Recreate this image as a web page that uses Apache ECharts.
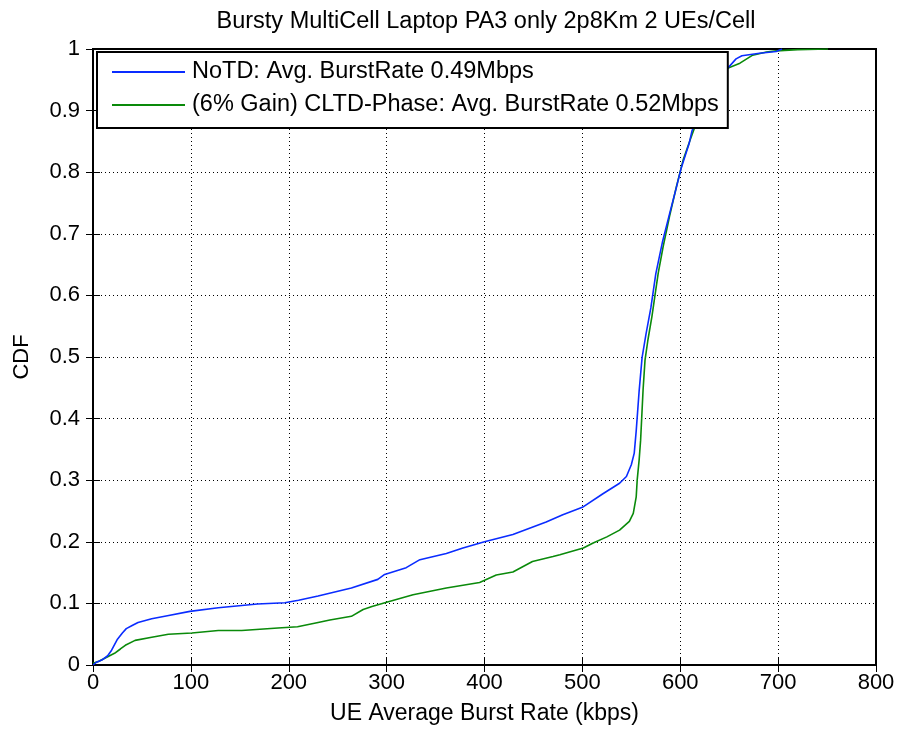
<!DOCTYPE html>
<html>
<head>
<meta charset="utf-8">
<script src="https://cdn.jsdelivr.net/npm/echarts@6/dist/echarts.min.js"></script>
<style>
html,body{margin:0;padding:0;background:#fff;}
#chart{width:899px;height:731px;}
</style>
</head>
<body>
<div id="chart"></div>
<script>
const titleText = 'Bursty MultiCell Laptop PA3 only 2p8Km 2 UEs/Cell';
const xAxisName = 'UE Average Burst Rate (kbps)';
const yAxisName = 'CDF';
const xTicks = [0, 100, 200, 300, 400, 500, 600, 700, 800];
const yTicks = [0, 0.1, 0.2, 0.3, 0.4, 0.5, 0.6, 0.7, 0.8, 0.9, 1];
const seriesNames = ['NoTD: Avg. BurstRate 0.49Mbps', '(6% Gain) CLTD-Phase: Avg. BurstRate 0.52Mbps'];

// NoTD (blue): [kbps, CDF]
const noTD = [
  [0,0],[3,0.004],[9,0.008],[15,0.015],[19,0.024],[25,0.042],[30,0.052],[34,0.059],[40,0.064],
  [46,0.069],[60,0.075],[76,0.080],[99,0.087],[128,0.093],[168,0.099],[196,0.101],[210,0.105],
  [230,0.112],[264,0.125],[291,0.139],[298,0.147],[320,0.158],[334,0.171],[361,0.181],[378,0.190],
  [400,0.200],[429,0.212],[463,0.232],[480,0.244],[500,0.256],[521,0.278],[538,0.295],[545,0.306],
  [550,0.325],[553,0.344],[555,0.38],[558,0.445],[561,0.499],[565,0.537],[570,0.58],[575,0.635],
  [582,0.688],[589,0.732],[596,0.775],[601,0.807],[609,0.846],[612,0.867],[620,0.90],[630,0.93],
  [640,0.955],[648,0.968],[657,0.984],[663,0.989],[681,0.993],[698,0.996],[704,1]
];

// CLTD-Phase (green): [kbps, CDF]
const cltd = [
  [0,0.003],[6,0.006],[12,0.011],[22,0.019],[28,0.026],[33,0.032],[43,0.040],[60,0.045],[77,0.050],
  [101,0.052],[128,0.056],[152,0.056],[189,0.060],[209,0.062],[230,0.069],[242,0.073],[264,0.079],
  [276,0.090],[285,0.095],[300,0.102],[327,0.114],[361,0.125],[395,0.134],[412,0.146],[429,0.151],
  [449,0.168],[470,0.176],[477,0.179],[501,0.19],[511,0.198],[525,0.208],[538,0.219],[548,0.233],
  [552,0.246],[555,0.273],[556,0.30],[558,0.333],[559.5,0.365],[562,0.446],[564,0.495],[567,0.528],
  [571,0.565],[574,0.598],[577.5,0.636],[582.5,0.679],[589,0.728],[596,0.776],[603,0.82],[610,0.852],
  [615,0.874],[625,0.91],[635,0.94],[643,0.96],[649,0.969],[661,0.977],[674,0.99],[688,0.995],
  [698,0.997],[720,0.999],[751,1.0]
];

const FONT = '"Liberation Sans", Arial, Helvetica, sans-serif';
const chart = echarts.init(document.getElementById('chart'));

const yFmt = v => (Math.abs(v) < 1e-9 ? '0' : (Math.abs(v - 1) < 1e-9 ? '1' : v.toFixed(1)));
const dotted = { show: true, lineStyle: { color: '#000', type: [1, 3], width: 1 } };

chart.setOption({
  backgroundColor: '#fff',
  animation: false,
  title: {
    text: titleText, left: 481, top: 5, textAlign: 'center',
    textStyle: { fontFamily: FONT, fontSize: 23.5, fontWeight: 'normal', color: '#000' }
  },
  grid: {
    left: 93, right: 23, top: 49, bottom: 66,
    show: true, borderColor: '#000', borderWidth: 2, backgroundColor: '#fff'
  },
  legend: {
    orient: 'vertical', left: 97, top: 52,
    data: seriesNames.map(n => ({ name: n, icon: 'rect' })),
    itemWidth: 73, itemHeight: 2, itemGap: 9,
    padding: [8, 9, 11, 15],
    backgroundColor: '#fff', borderColor: '#000', borderWidth: 2, borderRadius: 0,
    textStyle: { fontFamily: FONT, fontSize: 23.5, color: '#000', padding: [0, 0, 0, 2] }
  },
  xAxis: [{
    type: 'value', min: xTicks[0], max: xTicks[xTicks.length - 1], interval: 100,
    name: xAxisName, nameLocation: 'middle', nameGap: 37,
    nameTextStyle: { fontFamily: FONT, fontSize: 23, color: '#000' },
    axisLine: { show: false },
    axisTick: { show: true, inside: true, length: 7, lineStyle: { color: '#000', width: 1 } },
    axisLabel: { fontFamily: FONT, fontSize: 22, color: '#000', margin: 7 },
    splitLine: dotted
  }, {
    type: 'value', position: 'top', min: xTicks[0], max: xTicks[xTicks.length - 1], interval: 100,
    axisLine: { show: false },
    axisTick: { show: true, inside: true, length: 7, lineStyle: { color: '#000', width: 1 } },
    axisLabel: { show: false }, splitLine: { show: false }
  }],
  yAxis: [{
    type: 'value', min: yTicks[0], max: yTicks[yTicks.length - 1], interval: 0.1,
    name: yAxisName, nameLocation: 'middle', nameGap: 60, nameRotate: 90,
    nameTextStyle: { fontFamily: FONT, fontSize: 22, color: '#000' },
    axisLine: { show: false },
    axisTick: { show: true, inside: true, length: 7, lineStyle: { color: '#000', width: 1 } },
    axisLabel: { fontFamily: FONT, fontSize: 22, color: '#000', margin: 13, formatter: yFmt, padding: [0, 0, 8, 0] },
    splitLine: dotted
  }, {
    type: 'value', position: 'right', min: yTicks[0], max: yTicks[yTicks.length - 1], interval: 0.1,
    axisLine: { show: false },
    axisTick: { show: true, inside: true, length: 7, lineStyle: { color: '#000', width: 1 } },
    axisLabel: { show: false }, splitLine: { show: false }
  }],
  series: [{
    name: seriesNames[0], type: 'line', data: noTD, symbol: 'none', showSymbol: false,
    xAxisIndex: 0, yAxisIndex: 0,
    lineStyle: { color: '#0a2cff', width: 1.6 }, itemStyle: { color: '#0a2cff' }, z: 3
  }, {
    name: seriesNames[1], type: 'line', data: cltd, symbol: 'none', showSymbol: false,
    xAxisIndex: 0, yAxisIndex: 0,
    lineStyle: { color: '#0a8a0a', width: 1.6 }, itemStyle: { color: '#0a8a0a' }, z: 2
  }]
});
</script>
</body>
</html>
